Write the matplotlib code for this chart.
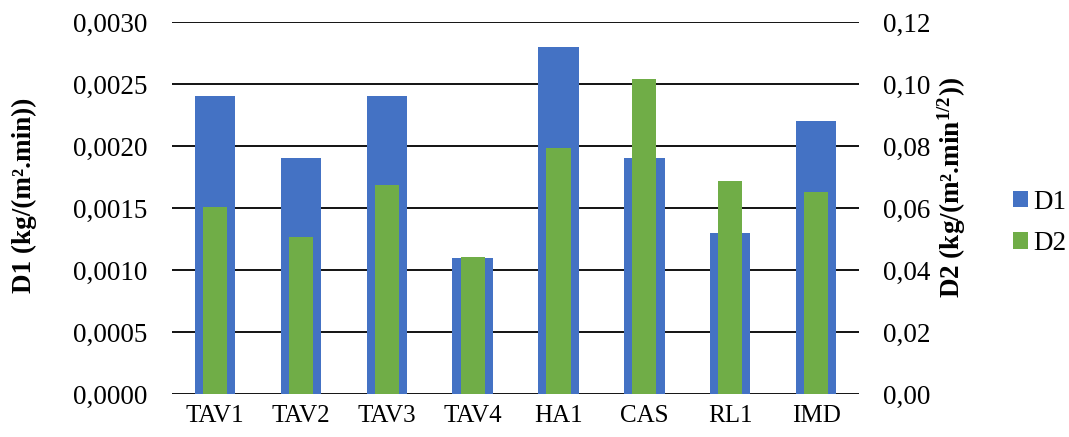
import matplotlib
matplotlib.use("Agg")
import matplotlib.pyplot as plt
from matplotlib.ticker import FuncFormatter, MultipleLocator
import numpy as np

categories = ["TAV1", "TAV2", "TAV3", "TAV4", "HA1", "CAS", "RL1", "IMD"]
d1_values = [0.0024, 0.0019, 0.0024, 0.0011, 0.0028, 0.0019, 0.0013, 0.0022]
d2_values = [0.0603, 0.0507, 0.0674, 0.0443, 0.0795, 0.1016, 0.0686, 0.0653]

plt.rcParams["font.family"] = ["Liberation Serif", "DejaVu Serif"]
plt.rcParams["mathtext.fontset"] = "custom"
plt.rcParams["mathtext.rm"] = "Liberation Serif"
plt.rcParams["mathtext.bf"] = "Liberation Serif:bold"
plt.rcParams["mathtext.it"] = "Liberation Serif:italic"

BLUE = "#4472C4"
GREEN = "#70AD47"
FS = 18
YFS = 19.5

fig = plt.figure(figsize=(10.69, 4.37), dpi=100)
ax = fig.add_axes([0.161, 0.0984, 0.6426, 0.8513])
ax2 = ax.twinx()

x = np.arange(len(categories))
ax.bar(x, d1_values, width=0.47, color=BLUE, zorder=2, label="D1")
ax2.bar(x, d2_values, width=0.28, color=GREEN, zorder=2, label="D2")

ax.set_xlim(-0.5, len(categories) - 0.5)
ax.set_ylim(0, 0.003)
ax2.set_ylim(0, 0.12)
ax.yaxis.set_major_locator(MultipleLocator(0.0005))
ax2.yaxis.set_major_locator(MultipleLocator(0.02))
ax.yaxis.set_major_formatter(FuncFormatter(lambda v, p: f"{v:.4f}".replace(".", ",")))
ax2.yaxis.set_major_formatter(FuncFormatter(lambda v, p: f"{v:.2f}".replace(".", ",")))

ax.set_axisbelow(True)
ax.grid(axis="y", color="black", linewidth=1.3)
for a in (ax, ax2):
    for s in a.spines.values():
        s.set_visible(False)
    a.tick_params(length=0, colors="black")
ax.tick_params(axis="y", pad=18, labelsize=YFS)
ax2.tick_params(axis="y", pad=17, labelsize=YFS)
ax.tick_params(axis="x", pad=8, labelsize=FS)
ax.set_xticks(x)
ax.set_xticklabels(categories)

ax.set_ylabel("D1 (kg/(m².min))", fontsize=19.5, fontweight="bold")
ax2.set_ylabel(r"D2 (kg/(m².min$^{\mathbf{1/2}}$))", fontsize=19.5,
               fontweight="bold")
ax.yaxis.set_label_coords(-0.1965, 0.535)
ax2.yaxis.set_label_coords(1.112, 0.554)

h1, l1 = ax.get_legend_handles_labels()
h2, l2 = ax2.get_legend_handles_labels()
fig.legend(h1 + h2, l1 + l2, loc="center left", bbox_to_anchor=(0.925, 0.49),
           frameon=False, fontsize=YFS, handlelength=0.55, handleheight=0.55,
           handletextpad=0.2, labelspacing=0.6)

fig.savefig("out.png", dpi=100)
